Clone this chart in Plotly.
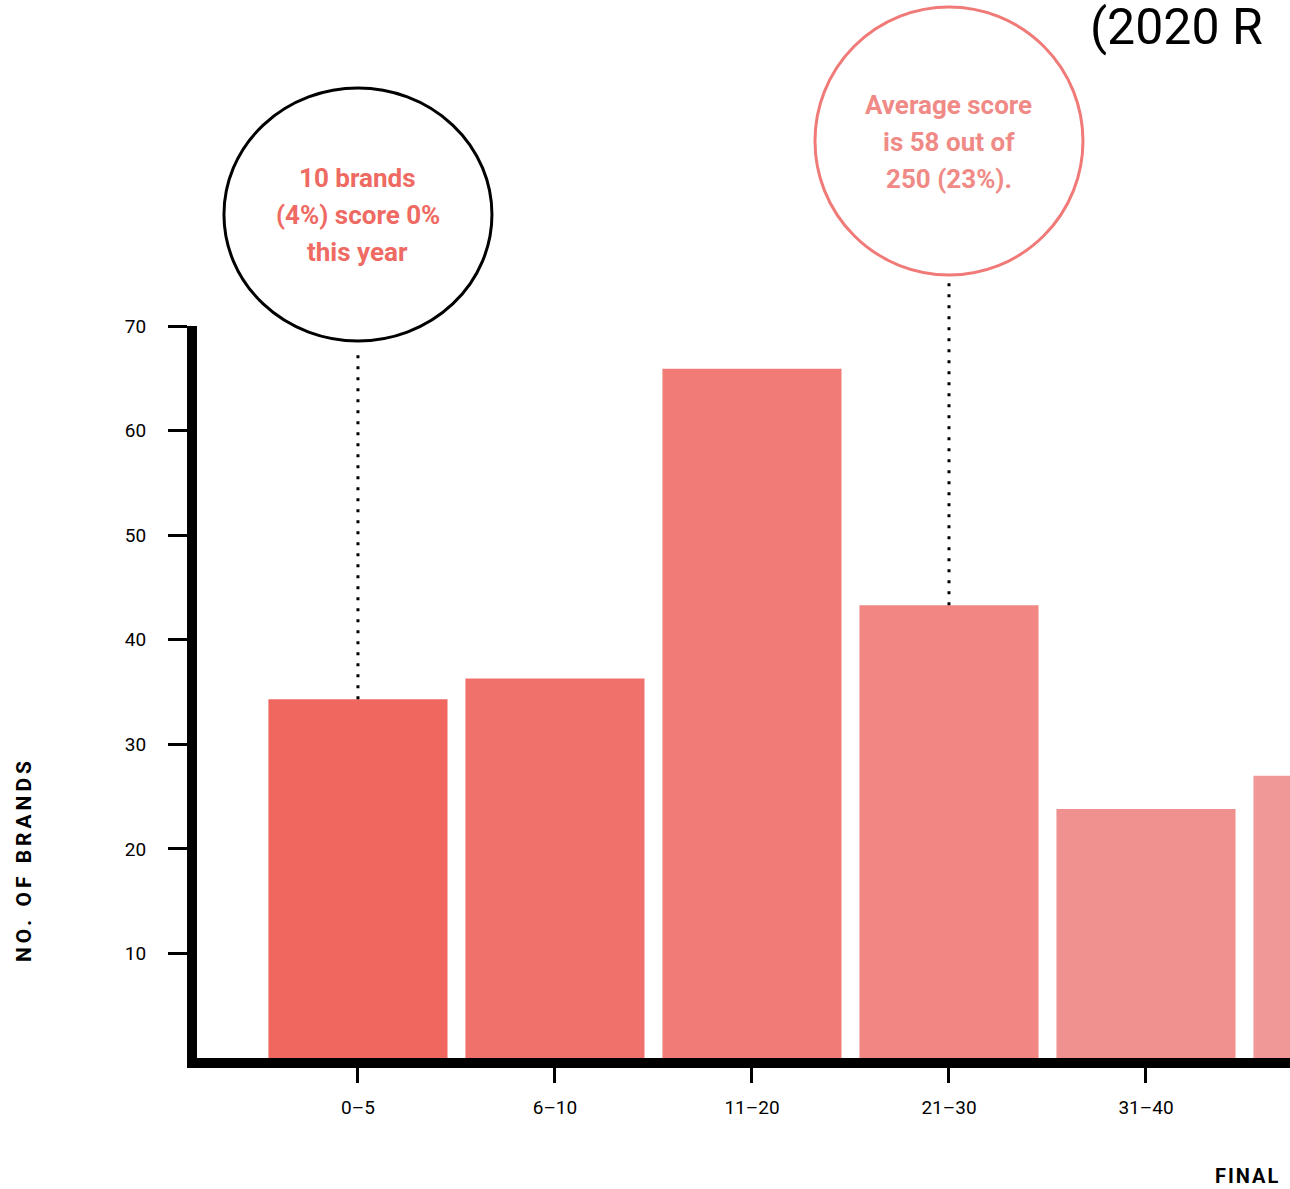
import plotly.graph_objects as go

# ---- data ----
categories = ["0–5", "6–10", "11–20", "21–30", "31–40", "41–50"]
brands = [34.3, 36.3, 65.9, 43.3, 23.8, 27.0]
bar_colors = ["#F0675F", "#F0716C", "#F07B77", "#F18683", "#F0918F", "#EF9897"]
y_ticks = [10, 20, 30, 40, 50, 60, 70]

note_left_lines = ["10 brands", "(4%) score 0%", "this year"]
note_right_lines = ["Average score", "is 58 out of", "250 (23%)."]
title_text = "(2020 R"      # visible part of the title in the cropped view
x_title = "FINAL"           # visible part of the x-axis title
y_title = "NO. OF BRANDS"

# ---- layout geometry ----
W, H = 1290, 1189
L, R, T, B = 197, 0, 326, 131
PW, PH = W - L - R, H - T - B
X_MIN, X_MAX = -0.817, 4.731
Y_MIN, Y_MAX = 0, 70


def px_x(px):
    return (px - L) / PW


def px_y(py):
    return (H - B - py) / PH


def cat_x(i):
    return (i - X_MIN) / (X_MAX - X_MIN)


def val_y(v):
    return (v - Y_MIN) / (Y_MAX - Y_MIN)


FONT = "Roboto, Inter, sans-serif"

fig = go.Figure()
fig.add_trace(go.Bar(
    x=categories, y=brands,
    marker=dict(color=bar_colors, line=dict(width=0)),
    hoverinfo="skip",
))

shapes = []
annotations = []

half_w = 134 / PW  # circle half-width in paper units

# circle 1 (black) over category 0
c1_i = 0
shapes.append(dict(type="circle", xref="paper", yref="paper",
                   x0=cat_x(c1_i) - half_w, x1=cat_x(c1_i) + half_w,
                   y0=px_y(341), y1=px_y(88),
                   line=dict(color="#000000", width=3), fillcolor="rgba(0,0,0,0)"))
shapes.append(dict(type="line", xref="paper", yref="paper",
                   x0=cat_x(c1_i), x1=cat_x(c1_i),
                   y0=val_y(brands[c1_i]), y1=px_y(352),
                   line=dict(color="#000000", width=3, dash="3px,8px")))

# circle 2 (pink) over category 3
c2_i = 3
shapes.append(dict(type="circle", xref="paper", yref="paper",
                   x0=cat_x(c2_i) - half_w, x1=cat_x(c2_i) + half_w,
                   y0=px_y(275), y1=px_y(7),
                   line=dict(color="#F07A78", width=3), fillcolor="rgba(0,0,0,0)"))
shapes.append(dict(type="line", xref="paper", yref="paper",
                   x0=cat_x(c2_i), x1=cat_x(c2_i),
                   y0=val_y(brands[c2_i]), y1=px_y(281),
                   line=dict(color="#000000", width=3, dash="3px,8px")))

for k, line in enumerate(note_left_lines):
    annotations.append(dict(text=line, xref="paper", yref="paper",
                            x=cat_x(c1_i), y=px_y(178 + 37 * k),
                            xanchor="center", yanchor="middle", showarrow=False,
                            font=dict(family=FONT, size=26, color="#EE6A62", weight="bold")))
for k, line in enumerate(note_right_lines):
    annotations.append(dict(text=line, xref="paper", yref="paper",
                            x=cat_x(c2_i), y=px_y(105 + 37 * k),
                            xanchor="center", yanchor="middle", showarrow=False,
                            font=dict(family=FONT, size=26, color="#F08A86", weight="bold")))

# title (only the part visible in the cropped view)
annotations.append(dict(text=title_text, xref="paper", yref="paper",
                        x=px_x(1088), y=px_y(27), xanchor="left", yanchor="middle",
                        showarrow=False,
                        font=dict(family=FONT, size=50, color="#000000")))

# axis titles
annotations.append(dict(text='<span style="letter-spacing:2px">' + x_title + "</span>",
                        xref="paper", yref="paper",
                        x=px_x(1213), y=px_y(1176), xanchor="left", yanchor="middle",
                        showarrow=False,
                        font=dict(family=FONT, size=20, color="#000000", weight="bold")))
annotations.append(dict(text='<span style="letter-spacing:4px">' + y_title + "</span>",
                        xref="paper", yref="paper",
                        x=px_x(24), y=px_y(860), xanchor="center", yanchor="middle",
                        textangle=-90, showarrow=False,
                        font=dict(family=FONT, size=21, color="#000000", weight="bold")))

fig.update_layout(
    width=W, height=H,
    margin=dict(l=L, r=R, t=T, b=B, pad=0),
    paper_bgcolor="white", plot_bgcolor="white",
    showlegend=False,
    bargap=0.091,
    shapes=shapes,
    annotations=annotations,
    font=dict(family=FONT, color="#000000"),
    xaxis=dict(
        type="category", range=[X_MIN, X_MAX],
        showline=True, linewidth=10, linecolor="#000000",
        ticks="outside", ticklen=15, tickwidth=3, tickcolor="#000000",
        tickfont=dict(family=FONT, size=19, color="#000000"),
        ticklabelstandoff=8,
        showgrid=False, zeroline=False, fixedrange=True,
    ),
    yaxis=dict(
        range=[Y_MIN, Y_MAX], tickvals=y_ticks,
        showline=True, linewidth=10, linecolor="#000000",
        ticks="outside", ticklen=19, tickwidth=3, tickcolor="#000000",
        tickfont=dict(family=FONT, size=19, color="#000000"),
        ticklabelstandoff=18,
        showgrid=False, zeroline=False, fixedrange=True,
    ),
)

fig.write_html("out.html", config={"displayModeBar": False})
